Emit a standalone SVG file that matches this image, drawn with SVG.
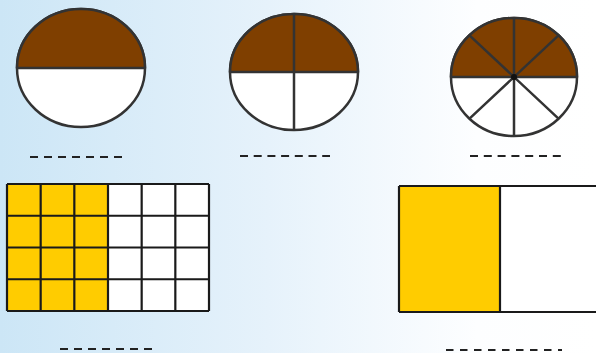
<svg xmlns="http://www.w3.org/2000/svg" width="596" height="353" viewBox="0 0 596 353">
  <defs>
    <linearGradient id="bg" x1="0" y1="0" x2="1" y2="0">
      <stop offset="0" stop-color="#cce6f6"/>
      <stop offset="0.45" stop-color="#e6f2fb"/>
      <stop offset="0.8" stop-color="#fdfeff"/>
      <stop offset="1" stop-color="#ffffff"/>
    </linearGradient>
  </defs>
  <style>
    .disc { fill: #ffffff; stroke: #333333; stroke-width: 2.5; }
    .half { fill: #7f3f00; stroke: #333333; stroke-width: 2.5; stroke-linejoin: round; }
    .spoke { stroke: #333333; stroke-width: 2.5; fill: none; }
    .blank { stroke: #222222; stroke-width: 2.2; fill: none; }
    .yel { fill: #ffcc00; }
    .wht { fill: #ffffff; }
    .grid { stroke: #1a1a1a; stroke-width: 2.2; fill: none; }
  </style>
  <rect x="0" y="0" width="596" height="353" fill="url(#bg)"/>

  <g id="circle-halves">
    <ellipse class="disc" cx="81" cy="68" rx="64" ry="59"/>
    <path class="half" d="M17,68 A64,59 0 0 1 145,68 Z"/>
    <path class="blank" d="M30,157 H122" stroke-dasharray="8 6"/>
  </g>

  <g id="circle-quarters">
    <ellipse class="disc" cx="294" cy="72" rx="64" ry="58"/>
    <path class="half" d="M230,72 A64,58 0 0 1 358,72 Z"/>
    <path class="spoke" d="M294,14 V130"/>
    <path class="blank" d="M240,156 H330" stroke-dasharray="8 5.7"/>
  </g>

  <g id="circle-eighths">
    <ellipse class="disc" cx="514" cy="77" rx="63" ry="59"/>
    <path class="half" d="M451,77 A63,59 0 0 1 577,77 Z"/>
    <path class="spoke" d="M514,18 V136 M469.5,35.3 L558.5,118.7 M558.5,35.3 L469.5,118.7"/>
    <circle cx="514" cy="77" r="3" fill="#111111"/>
    <path class="blank" d="M470,156 H561" stroke-dasharray="8 5.8"/>
  </g>

  <g id="grid-rect">
    <rect class="yel" x="7" y="184" width="101" height="127"/>
    <rect class="wht" x="108" y="184" width="101" height="127"/>
    <path class="grid" d="M7,184 H209 M7,215.75 H209 M7,247.5 H209 M7,279.25 H209 M7,311 H209 M7,184 V311 M40.67,184 V311 M74.33,184 V311 M108,184 V311 M141.67,184 V311 M175.33,184 V311 M209,184 V311"/>
    <path class="blank" d="M60,349 H152" stroke-width="3" stroke-dasharray="8 6"/>
  </g>

  <g id="half-rect">
    <rect class="yel" x="399" y="186" width="101" height="126"/>
    <rect class="wht" x="500" y="186" width="101" height="126"/>
    <path class="grid" d="M399,186 H601 M399,312 H601 M399,186 V312 M500,186 V312"/>
    <path class="blank" d="M446,350 H562" stroke-width="3" stroke-dasharray="7.5 6.5"/>
  </g>
</svg>
